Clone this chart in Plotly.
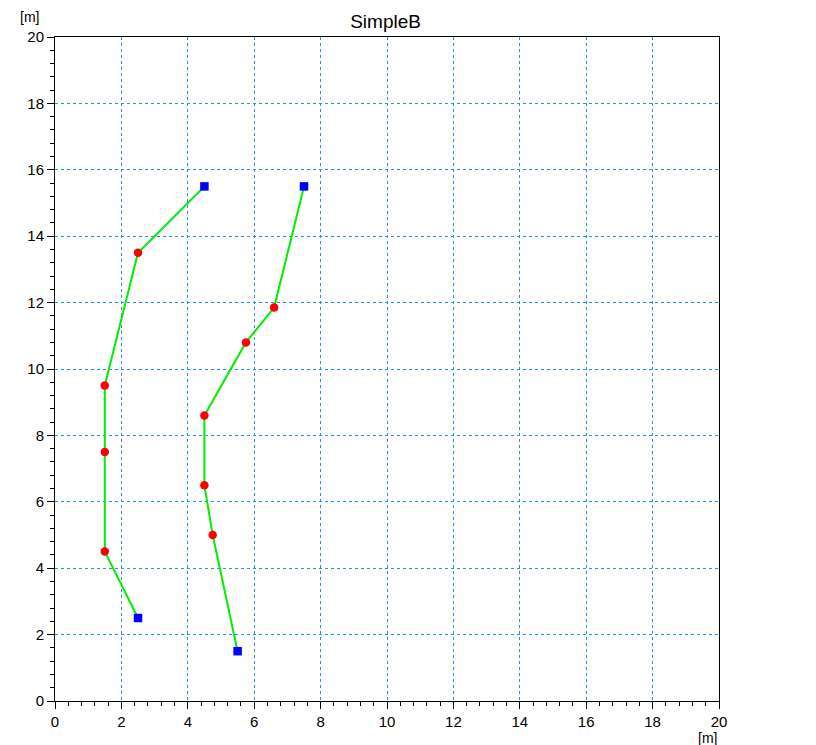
import plotly.graph_objects as go

# Data: two polylines (well paths), endpoints drawn as blue squares, interior as red dots
left_x = [2.5, 1.5, 1.5, 1.5, 2.5, 4.5]
left_y = [2.5, 4.5, 7.5, 9.5, 13.5, 15.5]
right_x = [5.5, 4.75, 4.5, 4.5, 5.75, 6.6, 7.5]
right_y = [1.5, 5.0, 6.5, 8.6, 10.8, 11.85, 15.5]

tick_vals = [0, 2, 4, 6, 8, 10, 12, 14, 16, 18, 20]
tick_text = [str(v) for v in tick_vals]

FONT = "Liberation Sans, Arial, sans-serif"

fig = go.Figure()

for xs, ys in [(left_x, left_y), (right_x, right_y)]:
    fig.add_trace(go.Scatter(x=xs, y=ys, mode="lines",
                             line=dict(color="#00EE00", width=2),
                             showlegend=False, hoverinfo="skip"))
    fig.add_trace(go.Scatter(x=xs[1:-1], y=ys[1:-1], mode="markers",
                             marker=dict(color="#FF0000", size=8.5, symbol="circle"),
                             showlegend=False))
    fig.add_trace(go.Scatter(x=[xs[0], xs[-1]], y=[ys[0], ys[-1]], mode="markers",
                             marker=dict(color="#0000FF", size=8.5, symbol="square"),
                             showlegend=False))

axis_common = dict(
    range=[0, 20],
    tickmode="array", tickvals=tick_vals, ticktext=tick_text,
    showline=True, linecolor="black", linewidth=1, mirror=True,
    ticks="outside", ticklen=7, tickcolor="black", tickwidth=1,
    showgrid=True, gridcolor="#1E90FF", gridwidth=1, griddash="3px,3px",
    zeroline=False,
    tickfont=dict(family=FONT, size=15, color="black"),
    minor=dict(dtick=0.4, ticks="outside", ticklen=4, tickcolor="black", showgrid=False),
    fixedrange=True,
)

fig.update_xaxes(**axis_common)
fig.update_yaxes(**axis_common)

fig.update_layout(
    width=816, height=745,
    margin=dict(l=55, r=97, t=37, b=44),
    plot_bgcolor="white", paper_bgcolor="white",
    title=dict(text="SimpleB", x=0.4725, xanchor="center", y=0.971, yanchor="middle",
               font=dict(family=FONT, size=19, color="black")),
    annotations=[
        dict(text="[m]", xref="paper", yref="paper", x=-0.038, y=1.0, yshift=20,
             xanchor="center", yanchor="middle", showarrow=False,
             font=dict(family=FONT, size=14, color="black")),
        dict(text="[m]", xref="paper", yref="paper", x=0.983, y=0, yshift=-37,
             xanchor="center", yanchor="middle", showarrow=False,
             font=dict(family=FONT, size=14, color="black")),
    ],
)

fig.write_html("out.html", config={"displayModeBar": False},
               post_script="document.body.style.margin='0';")
